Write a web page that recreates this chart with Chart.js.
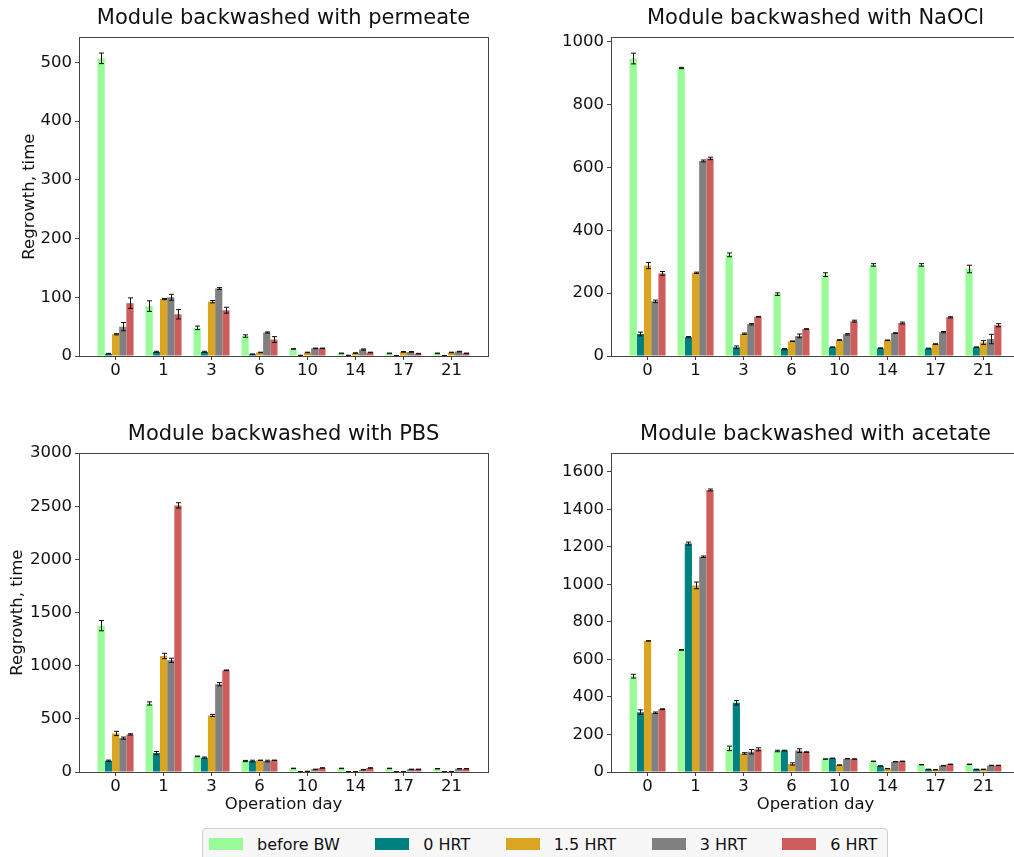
<!DOCTYPE html>
<html><head><meta charset="utf-8">
<script src="https://cdn.jsdelivr.net/npm/chart.js@4"></script>
<style>
html,body{margin:0;padding:0;overflow:hidden;background:#fff;width:1014px;height:857px;position:relative;}
canvas{position:absolute;}
#legend{position:absolute;left:202px;top:828px;width:686px;height:40px;box-sizing:border-box;border:1px solid #d0d0d0;border-radius:4px;background:#f7f7f7;display:flex;align-items:flex-start;padding-left:6px;font-family:"DejaVu Sans";font-size:16px;color:#111;}
.item{display:flex;align-items:center;margin-right:35.5px;height:30px;white-space:nowrap;}
.patch{width:34px;height:12px;margin-right:14px;}
</style></head>
<body>
<canvas id="c1" width="500" height="400" style="left:0;top:0"></canvas>
<canvas id="c2" width="500" height="400" style="left:520px;top:0"></canvas>
<canvas id="c3" width="500" height="410" style="left:0;top:416px"></canvas>
<canvas id="c4" width="500" height="410" style="left:520px;top:416px"></canvas>
<div id="legend"></div>
<script>
// ---- categories / labels ----
const days = ['0', '1', '3', '6', '10', '14', '17', '21'];
const seriesNames = ['before BW', '0 HRT', '1.5 HRT', '3 HRT', '6 HRT'];

// ---- Module backwashed with permeate ----
const perm_beforeBW = [507, 85, 48, 34, 12, 4.5, 4.5, 4.5];
const perm_0HRT     = [4, 7, 7, 3, 1, 1, 0.5, 0.5];
const perm_15HRT    = [37, 97, 92.5, 6, 6, 5, 7, 6];
const perm_3HRT     = [50, 100, 115, 40, 13, 11, 7, 7.5];
const perm_6HRT     = [90, 71, 78, 28, 13, 6, 4, 4.5];
const perm_beforeBW_err = [9, 9, 3, 2, 0.5, 0.5, 0.5, 0.5];
const perm_0HRT_err     = [0.5, 1, 1, 0.5, 0.3, 0.3, 0.3, 0.3];
const perm_15HRT_err    = [1, 1, 2, 0.5, 0.5, 0.5, 0.5, 0.5];
const perm_3HRT_err     = [7, 5, 1.5, 1, 0.5, 1, 0.5, 0.5];
const perm_6HRT_err     = [9, 8, 5, 5, 0.5, 0.5, 0.5, 0.5];
const perm_yTicks = [0, 100, 200, 300, 400, 500];

// ---- Module backwashed with NaOCl ----
const naocl_beforeBW = [947, 917, 322, 197, 259, 290, 290, 277];
const naocl_0HRT     = [70, 60, 28, 22, 28, 25, 24, 28];
const naocl_15HRT    = [288, 265, 71, 47, 51, 50, 38, 43];
const naocl_3HRT     = [174, 621, 101, 64, 69, 73, 76, 54];
const naocl_6HRT     = [263, 629, 125, 86, 111, 105, 123, 98];
const naocl_beforeBW_err = [17, 2, 6, 4, 6, 4, 4, 12];
const naocl_0HRT_err     = [6, 2, 4, 2, 1, 1, 1, 1];
const naocl_15HRT_err    = [10, 2, 2, 1, 1, 1, 1, 6];
const naocl_3HRT_err     = [4, 3, 2, 6, 2, 1, 2, 15];
const naocl_6HRT_err     = [6, 4, 1, 1, 3, 3, 2, 5];
const naocl_yTicks = [0, 200, 400, 600, 800, 1000];

// ---- Module backwashed with PBS ----
const pbs_beforeBW = [1377, 645, 147, 103, 34, 34, 34, 31];
const pbs_0HRT     = [106, 178, 135, 103, 3, 3, 3, 3];
const pbs_15HRT    = [363, 1092, 532, 110, 6, 3, 3, 3];
const pbs_3HRT     = [319, 1051, 826, 103, 25, 22, 25, 31];
const pbs_6HRT     = [354, 2509, 957, 110, 38, 38, 25, 31];
const pbs_beforeBW_err = [48, 15, 3, 6, 2, 2, 2, 2];
const pbs_0HRT_err     = [6, 15, 6, 8, 1, 1, 1, 1];
const pbs_15HRT_err    = [20, 25, 10, 2, 1, 1, 1, 1];
const pbs_3HRT_err     = [10, 20, 15, 8, 2, 2, 2, 2];
const pbs_6HRT_err     = [6, 25, 3, 2, 2, 2, 2, 2];
const pbs_yTicks = [0, 500, 1000, 1500, 2000, 2500, 3000];

// ---- Module backwashed with acetate ----
const ac_beforeBW = [511, 651, 126, 112, 69, 57, 39, 41];
const ac_0HRT     = [319, 1218, 369, 114, 73, 32, 14, 14];
const ac_15HRT    = [699, 995, 99, 43, 37, 18, 12, 14];
const ac_3HRT     = [316, 1148, 108, 114, 71, 55, 34, 35];
const ac_6HRT     = [335, 1504, 121, 106, 69, 57, 41, 35];
const ac_beforeBW_err = [10, 2, 12, 4, 1, 1, 1, 1];
const ac_0HRT_err     = [12, 8, 12, 2, 1, 1, 1, 1];
const ac_15HRT_err    = [1, 18, 4, 6, 1, 1, 1, 1];
const ac_3HRT_err     = [4, 4, 12, 10, 1, 1, 1, 1];
const ac_6HRT_err     = [2, 5, 8, 2, 1, 1, 1, 1];
const ac_yTicks = [0, 200, 400, 600, 800, 1000, 1200, 1400, 1600];

// ---- styles ----
const seriesColors = ['#98FB98', '#008080', '#DAA520', '#808080', '#CD5C5C'];
const FONT = 'DejaVu Sans';
const TXT = '#111';
const AX = '#444';

const errorBars = {
  id: 'errorBars',
  afterDatasetsDraw(chart) {
    const ctx = chart.ctx, ys = chart.scales.y;
    ctx.save();
    ctx.strokeStyle = '#111';
    ctx.lineWidth = 1;
    chart.data.datasets.forEach((ds, i) => {
      const meta = chart.getDatasetMeta(i);
      meta.data.forEach((bar, j) => {
        const v = ds.data[j], e = ds.errors[j];
        const x = Math.round(bar.x) + 0.5;
        const y1 = ys.getPixelForValue(v + e), y2 = ys.getPixelForValue(Math.max(0, v - e));
        ctx.beginPath();
        ctx.moveTo(x, y1); ctx.lineTo(x, y2);
        ctx.moveTo(x - 2.5, y1); ctx.lineTo(x + 2.5, y1);
        ctx.moveTo(x - 2.5, y2); ctx.lineTo(x + 2.5, y2);
        ctx.stroke();
      });
    });
    ctx.restore();
  }
};
const frame = {
  id: 'frame',
  afterDraw(chart) {
    const a = chart.chartArea, ctx = chart.ctx;
    ctx.save();
    ctx.strokeStyle = AX; ctx.lineWidth = 1;
    ctx.strokeRect(Math.round(a.left) + 0.5, Math.round(a.top) + 0.5, Math.round(a.right - a.left), Math.round(a.bottom - a.top));
    ctx.restore();
  }
};

function panel(id, title, vals, errs, yMax, yTicks, cfg) {
  const datasets = vals.map((d, i) => ({
    label: seriesNames[i], data: d, errors: errs[i],
    backgroundColor: seriesColors[i], borderWidth: 0,
    categoryPercentage: 0.75, barPercentage: 1.0
  }));
  new Chart(document.getElementById(id), {
    type: 'bar',
    data: { labels: days.map((d, i) => i), datasets },
    plugins: [errorBars, frame],
    options: {
      responsive: false, animation: false,
      layout: { padding: { left: 0, right: cfg.padRight, top: 0, bottom: 0 } },
      plugins: {
        legend: { display: false }, tooltip: { enabled: false },
        title: { display: true, text: title, fullSize: false, color: TXT,
                 font: { family: FONT, size: 21, weight: 'normal' }, padding: { top: 6, bottom: 6 } }
      },
      scales: {
        x: {
          type: 'linear', min: -0.7625, max: 7.7625, offset: false,
          afterBuildTicks: s => { s.ticks = days.map((d, i) => ({ value: i })); },
          afterFit: s => { s.height = cfg.xH; },
          grid: { drawOnChartArea: false, drawTicks: true, tickLength: 4, color: AX, offset: false },
          border: { display: false },
          ticks: { color: TXT, font: { family: FONT, size: 16.5 }, padding: 1, maxRotation: 0, autoSkip: false,
                   callback: v => days[v] },
          title: { display: cfg.xTitle, text: 'Operation day', color: TXT,
                   font: { family: FONT, size: 16.5 }, padding: { top: 0, bottom: 11 } }
        },
        y: {
          min: 0, max: yMax,
          afterBuildTicks: s => { s.ticks = yTicks.map(v => ({ value: v })); },
          afterFit: s => { s.width = cfg.yW; },
          grid: { drawOnChartArea: false, drawTicks: true, tickLength: 4, color: AX },
          border: { display: false },
          ticks: { color: TXT, font: { family: FONT, size: 16.5 }, padding: 3, callback: v => String(v) },
          title: { display: cfg.yTitle, text: 'Regrowth, time', color: TXT,
                   font: { family: FONT, size: 16.5 }, padding: { top: cfg.yTitlePad, bottom: 0 } }
        }
      }
    }
  });
}

panel('c1', 'Module backwashed with permeate',
  [perm_beforeBW, perm_0HRT, perm_15HRT, perm_3HRT, perm_6HRT],
  [perm_beforeBW_err, perm_0HRT_err, perm_15HRT_err, perm_3HRT_err, perm_6HRT_err],
  543, perm_yTicks, { padRight: 12, yW: 79, xH: 44, xTitle: false, yTitle: true, yTitlePad: 20.2 });
panel('c2', 'Module backwashed with NaOCl',
  [naocl_beforeBW, naocl_0HRT, naocl_15HRT, naocl_3HRT, naocl_6HRT],
  [naocl_beforeBW_err, naocl_0HRT_err, naocl_15HRT_err, naocl_3HRT_err, naocl_6HRT_err],
  1015, naocl_yTicks, { padRight: 0, yW: 91, xH: 44, xTitle: false, yTitle: false, yTitlePad: 0 });
panel('c3', 'Module backwashed with PBS',
  [pbs_beforeBW, pbs_0HRT, pbs_15HRT, pbs_3HRT, pbs_6HRT],
  [pbs_beforeBW_err, pbs_0HRT_err, pbs_15HRT_err, pbs_3HRT_err, pbs_6HRT_err],
  3000, pbs_yTicks, { padRight: 12, yW: 79, xH: 54, xTitle: true, yTitle: true, yTitlePad: 7.7 });
panel('c4', 'Module backwashed with acetate',
  [ac_beforeBW, ac_0HRT, ac_15HRT, ac_3HRT, ac_6HRT],
  [ac_beforeBW_err, ac_0HRT_err, ac_15HRT_err, ac_3HRT_err, ac_6HRT_err],
  1700, ac_yTicks, { padRight: 0, yW: 91, xH: 54, xTitle: true, yTitle: false, yTitlePad: 0 });

// legend
const leg = document.getElementById('legend');
seriesNames.forEach((n, i) => {
  const it = document.createElement('div'); it.className = 'item';
  const p = document.createElement('div'); p.className = 'patch'; p.style.background = seriesColors[i];
  const t = document.createElement('span'); t.textContent = n;
  it.appendChild(p); it.appendChild(t); leg.appendChild(it);
});
</script>
</body></html>
